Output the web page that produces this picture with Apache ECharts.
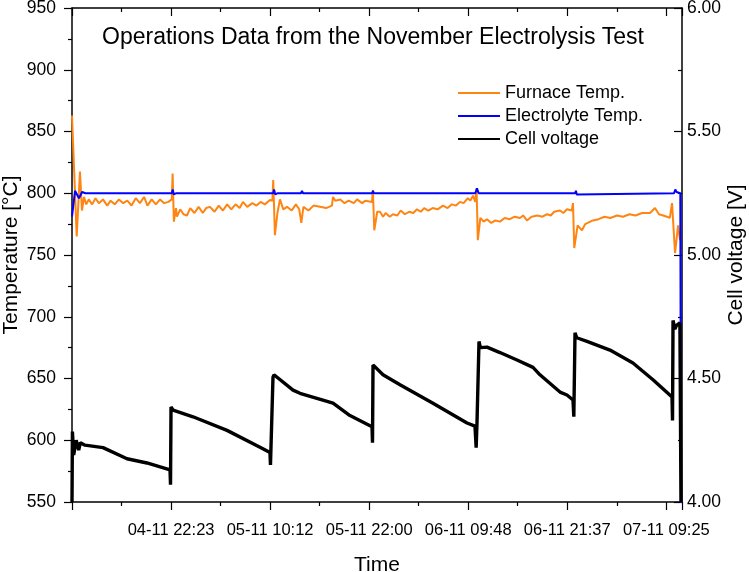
<!DOCTYPE html>
<html>
<head>
<meta charset="utf-8">
<script src="https://cdn.jsdelivr.net/npm/echarts@6/dist/echarts.min.js"></script>
<style>
  html, body { margin: 0; padding: 0; background: #fff; }
  #chart { width: 749px; height: 572px; }
</style>
</head>
<body>
<div id="chart"></div>
<script>
// time axis: hours since start, one major tick every ~11h48m
const tickStep = 11.8133
const timeMax = 72.75
const timeLabels = ['', '04-11 22:23', '05-11 10:12', '05-11 22:00', '06-11 09:48', '06-11 21:37', '07-11 09:25']

// [hours, °C]
const furnaceTemp = [
  [0, 863], [0.56, 765], [0.95, 817.5], [1.19, 786], [1.43, 797], [1.7, 791], [2.0, 795], [2.4, 791],
  [2.8, 796], [3.2, 792], [3.7, 795], [4.2, 790], [4.6, 794], [5.1, 791], [5.6, 795], [6.1, 792],
  [6.6, 794], [7.1, 790], [7.6, 796], [8.1, 792], [8.6, 797], [9.0, 790], [9.5, 795], [10.0, 791],
  [10.5, 795], [11.0, 792], [11.5, 793], [11.9, 795], [12.0, 816], [12.15, 777], [12.4, 788],
  [12.52, 781], [12.9, 787], [13.3, 783], [13.71, 782], [14.1, 788], [14.6, 784], [15.1, 789],
  [15.6, 784], [16.0, 788], [16.46, 789], [17.0, 785], [17.5, 790], [18.0, 786], [18.5, 791],
  [19.0, 787], [19.5, 791], [20.0, 788], [20.39, 793], [20.9, 789], [21.5, 792], [22.0, 790],
  [22.5, 793], [23.0, 791], [23.61, 794.5], [23.9, 794], [24.0, 810.7], [24.2, 766], [24.5, 784],
  [24.8, 795], [25.2, 787], [25.64, 789], [26.2, 786], [26.7, 791], [27.1, 787], [27.35, 776],
  [27.6, 789], [28.2, 786], [28.8, 790], [29.58, 789], [30.3, 788], [31.0, 790], [31.13, 797],
  [31.4, 794], [32.0, 795], [32.5, 792], [33.0, 794], [33.6, 792], [34.0, 795], [34.6, 792],
  [35.0, 794], [35.78, 793], [35.88, 802.6], [36.05, 770], [36.4, 785], [36.73, 785], [37.1, 781],
  [37.4, 784], [37.9, 781], [38.28, 783], [38.8, 782], [39.2, 786], [39.7, 783], [40.2, 785],
  [40.7, 784], [41.14, 787], [41.6, 785], [42.0, 788], [42.5, 786], [43.0, 788], [43.6, 787],
  [44.25, 790], [44.8, 788], [45.3, 791], [45.8, 790], [46.27, 793], [46.7, 792], [47.2, 796],
  [47.5, 794], [47.82, 798], [48.1, 793], [48.25, 804], [48.4, 762], [48.7, 780], [49.1, 777],
  [49.49, 779], [50.0, 776], [50.5, 778], [51.04, 777], [51.6, 780], [52.2, 779], [52.8, 781],
  [53.43, 780], [53.8, 782], [54.26, 778], [54.8, 781], [55.5, 782], [56.1, 781], [56.65, 783],
  [57.1, 782], [57.5, 785], [58.2, 786], [58.6, 784], [59.03, 787], [59.6, 786], [59.75, 792],
  [59.9, 755.6], [60.3, 774], [60.82, 770], [61.2, 775], [61.5, 776], [62.13, 778], [62.8, 779],
  [63.5, 781], [64.2, 780], [65.0, 782], [65.7, 781], [66.5, 783], [67.2, 782], [68.0, 784],
  [68.93, 784], [69.53, 788], [70.0, 783], [70.5, 782], [70.96, 781], [71.3, 780], [71.56, 792],
  [71.92, 751.6], [72.28, 774], [72.51, 762]
]

// [hours, °C]
const electrolyteTemp = [
  [0, 781], [0.36, 802], [0.83, 796], [1.2, 801], [1.6, 800], [11.9, 800], [12.01, 803], [12.15, 799],
  [12.4, 800], [24.0, 800], [24.09, 803], [24.25, 799], [24.5, 800], [27.3, 800], [27.43, 802],
  [27.55, 800], [35.8, 800], [35.9, 802], [36.0, 800], [48.1, 800], [48.3, 804], [48.5, 800],
  [60.0, 800], [60.1, 802], [60.2, 799], [60.4, 800], [71.8, 800], [71.95, 803], [72.1, 801],
  [72.55, 800], [72.63, 545]
]

// [hours, V]
const cellVoltage = [
  [0, 4.0], [0.05, 4.285], [0.2, 4.19], [0.5, 4.25], [0.8, 4.21], [1.0, 4.24], [1.55, 4.23],
  [3.7, 4.22], [6.56, 4.175], [8.94, 4.158], [11.69, 4.13], [11.75, 4.07], [11.81, 4.385],
  [12.05, 4.372], [14.43, 4.345], [18.49, 4.29], [22.42, 4.222], [23.61, 4.2], [23.67, 4.15],
  [23.97, 4.505], [24.09, 4.515], [26.36, 4.453], [27.19, 4.44], [31.13, 4.4], [33.15, 4.35],
  [35.78, 4.305], [35.84, 4.24], [35.9, 4.555], [37.09, 4.515], [39.12, 4.475], [43.05, 4.4],
  [47.11, 4.32], [48.06, 4.307], [48.2, 4.22], [48.3, 4.32], [48.54, 4.65], [48.7, 4.625],
  [49.49, 4.627], [51.04, 4.605], [53.07, 4.575], [54.98, 4.545], [55.81, 4.515], [58.2, 4.445],
  [59.03, 4.433], [59.75, 4.413], [59.85, 4.345], [59.99, 4.685], [60.2, 4.665], [61.42, 4.65],
  [64.16, 4.615], [66.9, 4.563], [69.29, 4.495], [71.56, 4.425], [71.62, 4.33], [71.68, 4.735],
  [71.9, 4.7], [72.1, 4.715], [72.5, 4.725], [72.63, 4.0]
]

const font = 'Liberation Sans, Arial, sans-serif'
const chart = echarts.init(document.getElementById('chart'))

const timeAxis = {
  type: 'value',
  min: 0,
  max: timeMax,
  interval: tickStep,
  splitLine: { show: false },
  axisLine: { show: true, onZero: false, lineStyle: { color: '#000', width: 1.5 } },
  axisTick: { length: 8, lineStyle: { color: '#000', width: 1.2 } },
  minorTick: { show: true, splitNumber: 2, length: 4, lineStyle: { color: '#000', width: 1.2 } },
}

chart.setOption({
  animation: false,
  textStyle: { fontFamily: font },
  title: {
    text: 'Operations Data from the November Electrolysis Test',
    left: 97,
    top: 21,
    textStyle: { fontFamily: font, fontSize: 23, fontWeight: 'normal', color: '#000' },
  },
  legend: {
    orient: 'vertical',
    left: 453,
    top: 79,
    icon: 'rect',
    itemWidth: 42,
    itemHeight: 2,
    itemGap: 5,
    textStyle: { fontFamily: font, fontSize: 18, color: '#000', padding: [0, 0, 0, 0] },
    data: ['Furnace Temp.', 'Electrolyte Temp.', 'Cell voltage'],
  },
  grid: { left: 72, right: 67, top: 8, bottom: 70, outerBoundsMode: 'none' },
  xAxis: [
    {
      ...timeAxis,
      position: 'bottom',
      name: 'Time',
      nameLocation: 'middle',
      nameGap: 53,
      nameMoveOverlap: false,
      nameTextStyle: { fontFamily: font, fontSize: 21, color: '#000' },
      axisLabel: {
        margin: 20,
        fontSize: 16.5,
        color: '#000',
        showMaxLabel: false,
        formatter: (v) => {
          const i = Math.round(v / tickStep)
          return Math.abs(v - i * tickStep) < 0.01 ? timeLabels[i] : ''
        },
      },
    },
    {
      ...timeAxis,
      position: 'top',
      axisTick: { ...timeAxis.axisTick, inside: true },
      axisLabel: { show: false },
    },
  ],
  yAxis: [
    {
      type: 'value',
      min: 550,
      max: 950,
      interval: 50,
      position: 'left',
      name: 'Temperature [°C]',
      nameLocation: 'middle',
      nameGap: 50,
      nameMoveOverlap: false,
      nameTextStyle: { fontFamily: font, fontSize: 21, color: '#000' },
      splitLine: { show: false },
      axisLine: { show: true, onZero: false, lineStyle: { color: '#000', width: 1.5 } },
      axisTick: { length: 8, lineStyle: { color: '#000', width: 1.2 } },
      minorTick: { show: true, splitNumber: 2, length: 4, lineStyle: { color: '#000', width: 1.2 } },
      axisLabel: { margin: 16, fontSize: 17.5, color: '#000' },
    },
    {
      type: 'value',
      min: 4,
      max: 6,
      interval: 0.5,
      position: 'right',
      name: 'Cell voltage [V]',
      nameLocation: 'middle',
      nameGap: 44,
      nameMoveOverlap: false,
      nameTextStyle: { fontFamily: font, fontSize: 21, color: '#000' },
      splitLine: { show: false },
      axisLine: { show: true, onZero: false, lineStyle: { color: '#000', width: 1.5 } },
      axisTick: { inside: true, length: 8, lineStyle: { color: '#000', width: 1.2 } },
      minorTick: { show: true, splitNumber: 2, length: 4, lineStyle: { color: '#000', width: 1.2 } },
      axisLabel: { margin: 5, fontSize: 17.5, color: '#000', formatter: (v) => v.toFixed(2) },
    },
  ],
  series: [
    {
      name: 'Furnace Temp.',
      type: 'line',
      yAxisIndex: 0,
      symbol: 'none',
      color: '#ff8512',
      lineStyle: { width: 2 },
      data: furnaceTemp,
      z: 2,
    },
    {
      name: 'Electrolyte Temp.',
      type: 'line',
      yAxisIndex: 0,
      symbol: 'none',
      color: '#0000ff',
      lineStyle: { width: 2 },
      data: electrolyteTemp,
      z: 3,
    },
    {
      name: 'Cell voltage',
      type: 'line',
      yAxisIndex: 1,
      symbol: 'none',
      color: '#000000',
      lineStyle: { width: 3.4 },
      data: cellVoltage,
      z: 4,
    },
  ],
})
</script>
</body>
</html>
